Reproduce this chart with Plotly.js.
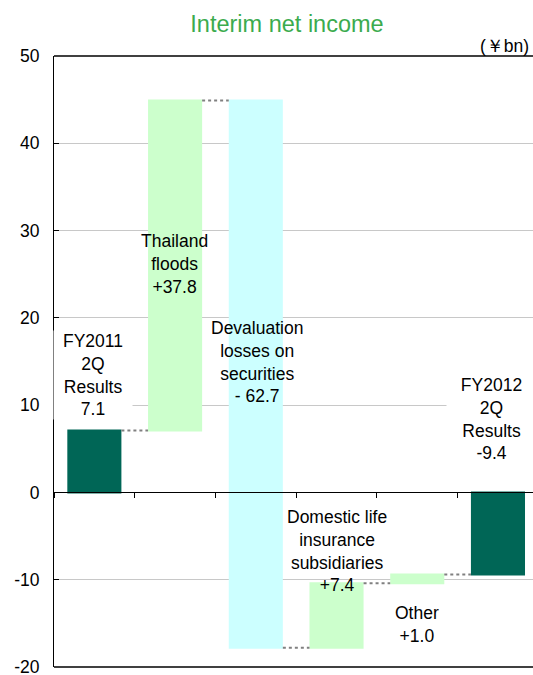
<!DOCTYPE html>
<html>
<head>
<meta charset="utf-8">
<script src="https://cdn.plot.ly/plotly-3.0.1.min.js"></script>
<style>
  html, body { margin: 0; padding: 0; background: #ffffff; }
  #chart { width: 533px; height: 675px; }
</style>
</head>
<body>
<div id="chart"></div>
<script>
// ---- data ----
const categories = [
  'FY2011 2Q Results',
  'Thailand floods',
  'Devaluation losses on securities',
  'Domestic life insurance subsidiaries',
  'Other',
  'FY2012 2Q Results'
];
const values = [7.1, 37.8, -62.7, 7.4, 1.0, -9.4];
const measures = ['absolute', 'relative', 'relative', 'relative', 'relative', 'total'];
const barLabels = [
  'FY2011<br>2Q<br>Results<br>7.1',
  'Thailand<br>floods<br>+37.8',
  'Devaluation<br>losses on<br>securities<br>- 62.7',
  'Domestic life<br>insurance<br>subsidiaries<br>+7.4',
  'Other<br>+1.0',
  'FY2012<br>2Q<br>Results<br>-9.4'
];
const yTickVals = [-20, -10, 0, 10, 20, 30, 40, 50];
const chartTitle = 'Interim net income';
const unitLabel = '(￥bn)';

// ---- styles ----
const FONT = 'Liberation Sans, Arial, sans-serif';
const TOTAL_COLOR = '#006656';
const UP_COLOR = '#ccffcc';
const DOWN_COLOR = '#ccffff';

const trace = {
  type: 'waterfall',
  x: categories,
  y: values,
  measure: measures,
  width: 0.67,
  textinfo: 'none',
  hoverinfo: 'skip',
  increasing: { marker: { color: UP_COLOR, line: { width: 0 } } },
  decreasing: { marker: { color: DOWN_COLOR, line: { width: 0 } } },
  totals: { marker: { color: TOTAL_COLOR, line: { width: 0 } } },
  connector: { mode: 'between', line: { color: '#808080', width: 2, dash: 'dot' } },
  showlegend: false
};

// label placement (layout only): [y centre in data units, x shift px, box width or null]
const labelPlace = [
  [13.5, -1, 78],
  [26.2, -1, null],
  [15.0, 1, null],
  [-6.7, 0, null],
  [-15.1, 0, null],
  [8.45, -6.5, 89]
];

const annotations = barLabels.map((t, i) => {
  const a = {
    x: categories[i], y: labelPlace[i][0], xref: 'x', yref: 'y',
    text: t, showarrow: false, xanchor: 'center', yanchor: 'middle',
    xshift: labelPlace[i][1], align: 'center',
    font: { family: FONT, size: 17.5, color: '#000000' }
  };
  if (labelPlace[i][2]) {
    a.bgcolor = '#ffffff';
    a.width = labelPlace[i][2];
    a.borderpad = 0;
  }
  return a;
});

annotations.push({
  x: 1, y: 1, xref: 'paper', yref: 'paper', text: unitLabel,
  showarrow: false, xanchor: 'right', yanchor: 'middle', xshift: -2, yshift: 10,
  font: { family: FONT, size: 17.5, color: '#000000' }
});

const xRange = [-0.5, 5.434];

const layout = {
  width: 533, height: 675,
  margin: { l: 54, r: 0, t: 56, b: 8, pad: 0, autoexpand: false },
  paper_bgcolor: '#ffffff', plot_bgcolor: '#ffffff',
  font: { family: FONT, size: 17.5, color: '#000000' },
  title: {
    text: chartTitle,
    font: { family: FONT, size: 23.5, color: '#3bab4e' },
    xref: 'container', yref: 'container',
    x: 287 / 533, xanchor: 'center',
    y: 1 - 24 / 675, yanchor: 'middle'
  },
  showlegend: false,
  xaxis: {
    type: 'category',
    range: xRange,
    anchor: 'free', position: 20 / 70,
    showline: true, linecolor: '#000000', linewidth: 1,
    ticks: 'outside', tickson: 'boundaries', ticklen: 5, tickcolor: '#000000', tickwidth: 1,
    showticklabels: false, showgrid: false, zeroline: false,
    fixedrange: true
  },
  yaxis: {
    range: [-20, 50], tickmode: 'array', tickvals: yTickVals,
    ticktext: yTickVals.map(String),
    ticks: 'inside', ticklen: 5, tickcolor: '#000000', tickwidth: 1,
    showline: true, linecolor: '#000000', linewidth: 1,
    showgrid: true, gridcolor: '#c8c8c8', gridwidth: 1,
    zeroline: false,
    tickfont: { family: FONT, size: 17.5, color: '#000000' },
    ticklabelstandoff: 10,
    ticklabeloverflow: 'allow',
    automargin: false,
    fixedrange: true
  },
  shapes: [
    { type: 'line', xref: 'paper', yref: 'paper', x0: 0, x1: 1, y0: 1, y1: 1,
      line: { color: '#000000', width: 1.5 }, layer: 'above' },
    { type: 'line', xref: 'paper', yref: 'paper', x0: 0, x1: 1, y0: 0, y1: 0,
      line: { color: '#000000', width: 1.5 }, layer: 'above' }
  ],
  annotations: annotations
};

Plotly.newPlot('chart', [trace], layout, { displayModeBar: false, staticPlot: true });
</script>
</body>
</html>
